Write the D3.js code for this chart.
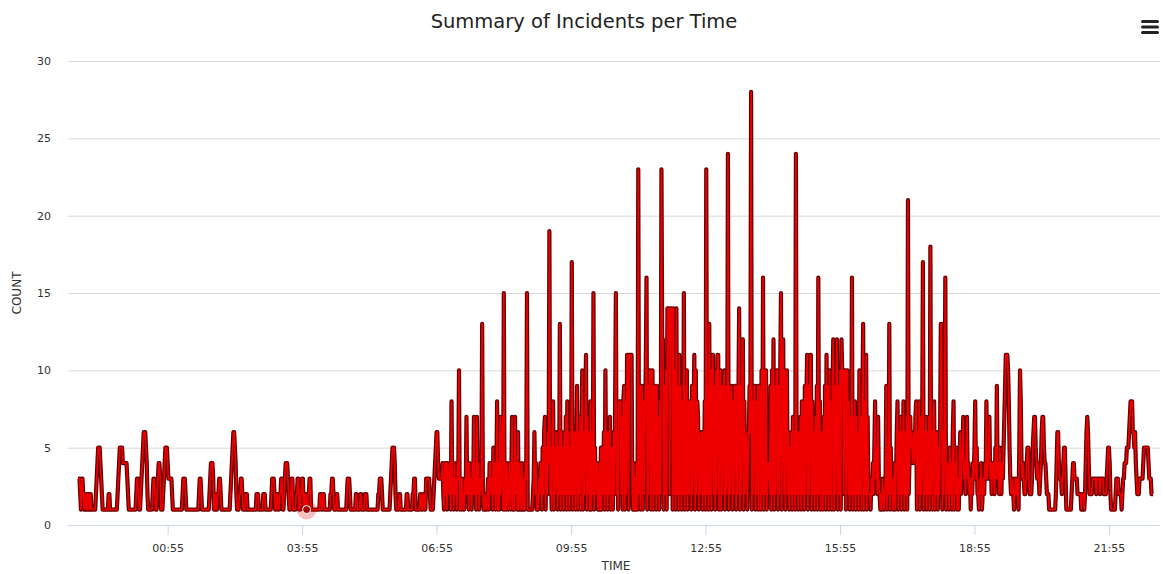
<!DOCTYPE html>
<html>
<head>
<meta charset="utf-8">
<script src="https://cdn.jsdelivr.net/npm/d3@7"></script>
<style>
  body { margin: 0; background: #fff; }
  text { font-family: "DejaVu Sans", sans-serif; }
</style>
</head>
<body>
<div id="chart"></div>
<script>

// Incident counts per minute, split in 3 hour blocks (block named by its start time)
const counts2255 = [
  3,3,3,2,1,3,3,2,1,2,2,1,2,1,2,2,1,2,1,1,
  1,1,1,1,2,3,4,5,5,5,4,3,2,1,1,1,1,1,1,1,
  1,2,2,1,1,1,1,1,1,1,1,1,1,2,3,4,5,5,5,5,
  4,4,4,4,4,4,3,2,1,1,1,1,1,1,1,1,1,1,2,3,
  3,2,1,1,2,3,4,5,6,6,6,5,4,2,1,1,1,1,1,1,
  2,3,3,2,1,1,2,3,4,4,3,1,1,1,2,3,4,5,5,5,
  4,3,3,3,3,3,2,1,1,1,1,1,1,1,1,1,1,1,1,1,
  2,3,3,3,2,1,1,1,1,1,1,1,1,1,1,1,1,1,1,1,
  1,1,2,3,3,2,1,1,1,1,1,1,1,1,1,1,2,3,4,4];
const counts0155 = [
  4,3,1,1,2,1,1,2,2,3,3,2,1,1,1,1,1,1,1,1,
  1,1,1,1,2,3,4,5,6,6,5,4,2,1,1,1,2,2,3,3,
  2,1,1,1,2,2,2,1,1,1,1,1,1,1,1,1,1,1,1,2,
  2,2,1,1,1,1,1,1,2,2,2,1,1,1,1,1,1,1,1,2,
  3,3,3,2,1,1,2,2,1,1,2,2,3,3,1,1,2,3,4,4,
  4,3,2,1,1,2,3,3,1,1,1,1,2,2,3,3,1,1,2,2,
  3,3,1,1,2,2,1,1,2,2,3,3,1,1,1,1,1,1,1,1,
  1,1,1,1,2,2,1,1,2,2,1,1,1,1,1,1,1,1,2,2,
  3,3,2,1,1,1,2,2,1,1,1,1,1,1,1,1,1,1,1,1];
const counts0455 = [
  2,3,3,3,2,1,1,1,1,1,1,1,2,2,1,1,1,1,2,2,
  1,1,1,1,2,2,2,1,1,1,1,1,1,1,1,1,1,1,1,1,
  1,1,2,2,3,3,3,2,1,1,1,1,1,1,1,1,1,1,2,3,
  4,5,5,5,4,2,1,1,1,1,2,2,1,1,1,1,1,1,1,1,
  2,2,1,1,1,1,1,1,2,2,3,3,1,1,1,1,1,1,2,2,
  1,1,2,2,1,1,3,3,3,3,3,2,1,1,1,1,2,3,4,5,
  6,6,4,3,3,3,3,3,4,2,1,4,2,4,1,4,3,2,4,1,
  8,2,3,1,4,2,3,1,4,3,10,1,3,1,3,2,1,1,3,2,
  7,2,4,1,4,2,3,1,4,2,7,2,3,1,7,2,4,1,3,2];
const counts0755 = [
  3,13,2,1,1,2,1,1,2,3,1,4,4,2,3,1,5,2,4,1,
  3,8,1,4,1,7,2,5,7,1,15,1,4,1,4,2,1,3,4,1,
  3,7,1,4,1,7,2,4,1,6,1,4,2,1,4,2,1,3,1,4,
  3,15,1,1,1,1,1,1,1,2,3,6,2,4,1,2,1,3,2,4,
  4,1,5,2,6,7,1,5,2,6,4,19,2,5,1,6,8,1,5,2,
  6,6,1,5,2,13,1,6,2,5,1,6,2,7,1,8,2,6,1,5,
  2,17,1,6,2,6,1,5,9,1,6,2,7,1,6,10,1,6,2,7,
  11,1,7,2,6,1,8,1,6,2,15,1,5,2,4,4,1,2,4,1,
  5,1,5,2,6,1,10,2,6,1,6,2,7,1,5,5,1,6,2,8];
const counts1055 = [
  15,2,6,1,8,8,8,2,7,1,8,9,1,8,2,11,11,1,11,11,
  11,11,2,1,4,1,3,1,4,1,23,2,9,1,9,9,1,8,2,7,
  10,16,1,9,2,10,10,1,10,10,1,9,2,9,1,9,2,7,1,8,
  2,23,12,12,1,9,2,10,1,14,14,14,2,14,14,14,1,14,2,10,
  1,14,2,9,1,11,2,9,1,8,2,15,1,9,2,10,1,8,2,8,
  8,1,9,2,7,11,1,10,2,8,7,1,6,2,5,6,1,6,2,8,
  1,23,2,9,1,13,2,10,1,11,11,2,9,1,10,2,11,11,1,9,
  10,1,9,2,8,10,1,9,2,4,24,1,9,2,8,9,1,8,2,9,
  9,1,9,2,8,14,1,9,2,12,12,1,8,2,5,6,1,4,6,9];
const counts1355 = [
  6,28,1,8,2,9,9,1,8,2,9,1,9,8,1,10,2,16,1,10,
  2,10,1,4,3,4,2,9,1,10,2,12,1,9,2,10,10,1,9,2,
  10,15,1,9,12,2,10,1,9,10,2,6,1,5,2,6,1,7,2,6,
  1,24,2,6,1,6,2,7,1,8,2,8,1,9,2,8,11,1,9,2,
  11,11,1,8,2,6,1,7,2,9,1,16,2,8,1,6,6,1,7,2,
  9,1,11,2,9,1,10,2,8,1,9,12,1,9,2,10,12,1,9,2,
  10,1,12,10,10,2,10,10,1,10,10,2,8,1,7,2,16,1,7,2,
  8,1,7,2,6,1,10,2,7,1,8,13,1,8,2,11,1,7,2,2,
  2,1,3,2,4,2,5,8,3,5,2,7,3,2,1,2,1,3,2,1];
const counts1655 = [
  2,3,9,1,5,2,13,1,5,2,3,1,2,4,1,3,6,8,1,6,
  2,7,1,6,2,8,1,6,2,7,1,21,2,4,7,5,6,4,5,6,
  4,7,8,1,6,2,8,1,7,2,6,17,1,6,2,7,1,6,2,7,
  1,18,2,6,1,7,8,1,6,2,6,1,5,2,6,13,13,1,6,2,
  7,16,1,4,2,4,1,5,2,4,1,6,8,1,4,2,5,1,3,1,
  4,6,2,4,5,7,3,4,2,5,7,3,4,2,3,1,3,2,4,3,
  5,8,3,5,2,2,1,3,2,4,1,2,3,2,4,3,8,3,4,5,
  7,3,4,2,4,4,3,2,5,3,9,3,4,2,5,3,2,4,3,5,
  7,9,11,11,11,10,8,5,3,2,2,3,2,1,2,3,2,3,2,1];
const counts1955 = [
  5,10,8,4,3,4,3,2,2,3,4,5,5,3,2,2,2,3,5,6,
  7,7,5,4,3,4,3,2,3,4,6,7,7,5,4,4,3,2,2,2,
  1,1,1,1,1,1,1,1,1,2,4,6,6,4,3,3,3,2,3,4,
  5,5,3,1,1,1,1,1,1,1,2,3,4,4,3,3,3,3,2,2,
  2,2,2,1,2,2,2,1,2,4,6,7,6,4,2,2,2,2,3,3,
  3,3,3,2,3,3,3,3,2,3,3,3,3,2,2,2,2,3,4,5,
  5,4,2,1,1,1,1,1,1,2,3,3,3,2,2,2,2,1,2,3,
  3,4,4,4,5,5,5,6,7,8,8,8,6,6,5,6,4,3,2,2,
  2,3,3,3,3,3,4,5,5,5,5,5,5,4,3,3,3,2,2,2];

const startTime = "22:55";
const stepMinutes = 1;
const tickLabels = ["00:55", "03:55", "06:55", "09:55", "12:55", "15:55", "18:55", "21:55"];
const yTicks = [0, 5, 10, 15, 20, 25, 30];
const hoverTime = "04:01";

// Set dimensions and margins
const width = 1163;
const height = 574;
const margin = {left: 68, right: 3, top: 61, bottom: 49};

const counts = [].concat(counts2255, counts0155, counts0455, counts0755,
                         counts1055, counts1355, counts1655, counts1955);

// time category for every value
const parseTime = d3.timeParse("%H:%M");
const formatTime = d3.timeFormat("%H:%M");
const times = counts.map((d, i) => formatTime(d3.timeMinute.offset(parseTime(startTime), i * stepMinutes)));

const svg = d3.select("#chart")
  .append("svg")
  .attr("width", width)
  .attr("height", height);

/*
  Scales
*/
const xScale = d3.scalePoint()
  .domain(times)
  .range([margin.left + 10, width - margin.right - 7]);

const yScale = d3.scaleLinear()
  .domain([0, 30])
  .range([height - margin.bottom, margin.top]);

/*
  Axes
*/
// y axis with grid lines
const yAxis = svg.append("g")
  .attr("transform", `translate(${margin.left},0)`)
  .call(d3.axisLeft(yScale)
    .tickValues(yTicks)
    .tickSize(-(width - margin.left - margin.right))
    .tickPadding(17));
yAxis.select(".domain").remove();
yAxis.selectAll("line").attr("stroke", "#d8d8d8");
yAxis.selectAll("text")
  .attr("fill", "#333")
  .attr("font-size", "11px")
  .style("font-family", "DejaVu Sans");

// x axis
const xAxis = svg.append("g")
  .attr("transform", `translate(0,${height - margin.bottom})`)
  .call(d3.axisBottom(xScale)
    .tickValues(tickLabels)
    .tickSize(10)
    .tickSizeOuter(0)
    .tickPadding(9));
xAxis.select(".domain")
  .attr("stroke", "#ccd6eb")
  .attr("d", `M${margin.left},0.5H${width - margin.right}`);
xAxis.selectAll("line").attr("stroke", "#ccd6eb");
xAxis.selectAll("text")
  .attr("fill", "#333")
  .attr("font-size", "11px")
  .style("font-family", "DejaVu Sans");

/*
  Line
*/
const line = d3.line()
  .x((d, i) => xScale(times[i]))
  .y(d => yScale(d));

// dark edge under the line
svg.append("path")
  .datum(counts)
  .attr("fill", "none")
  .attr("stroke", "#600000")
  .attr("stroke-width", 4.2)
  .attr("stroke-linejoin", "round")
  .attr("d", line);

svg.append("path")
  .datum(counts)
  .attr("fill", "none")
  .attr("stroke", "#ee0000")
  .attr("stroke-width", 1.7)
  .attr("stroke-linejoin", "round")
  .attr("d", line);

// hovered point
const hoverIndex = times.indexOf(hoverTime);
svg.append("circle")
  .attr("cx", xScale(hoverTime))
  .attr("cy", yScale(counts[hoverIndex]))
  .attr("r", 10)
  .attr("fill", "#e80000")
  .attr("opacity", 0.25);
svg.append("circle")
  .attr("cx", xScale(hoverTime))
  .attr("cy", yScale(counts[hoverIndex]))
  .attr("r", 4)
  .attr("fill", "#a00000")
  .attr("stroke", "#fff")
  .attr("stroke-width", 1);

/*
  Titles
*/
svg.append("text")
  .attr("x", 584)
  .attr("y", 28)
  .attr("text-anchor", "middle")
  .attr("font-size", "19.5px")
  .attr("fill", "#222")
  .text("Summary of Incidents per Time");

svg.append("text")
  .attr("x", 616)
  .attr("y", 570)
  .attr("text-anchor", "middle")
  .attr("font-size", "12px")
  .attr("fill", "#333")
  .text("TIME");

svg.append("text")
  .attr("transform", `translate(21,${(margin.top + height - margin.bottom) / 2}) rotate(-90)`)
  .attr("text-anchor", "middle")
  .attr("font-size", "12px")
  .attr("fill", "#333")
  .text("COUNT");

// menu button
svg.append("g")
  .selectAll("rect")
  .data([0, 1, 2])
  .enter()
  .append("rect")
  .attr("x", 1141)
  .attr("y", d => 20 + d * 5.5)
  .attr("width", 18)
  .attr("height", 3)
  .attr("rx", 1.5)
  .attr("fill", "#222");

</script>
</body>
</html>
